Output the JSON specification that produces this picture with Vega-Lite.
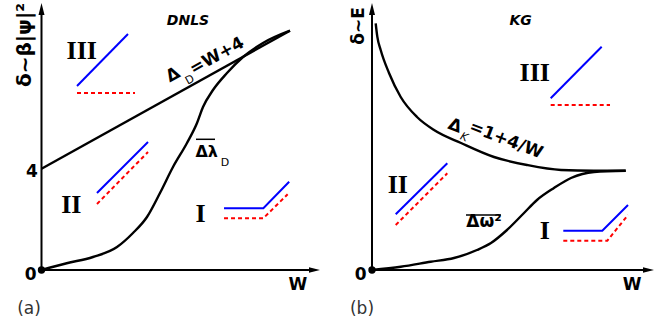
{
  "$schema": "https://vega.github.io/schema/vega-lite/v6.json",
  "padding": 0,
  "spacing": 0,
  "bounds": "flush",
  "background": "white",
  "config": {"view": {"stroke": null}},
  "hconcat": [
    {
      "width": 334,
      "height": 327,
      "encoding": {
        "x": {"field": "x", "type": "quantitative", "scale": {"domain": [-0.9222, 6.5], "nice": false, "zero": false}, "axis": null},
        "y": {"field": "y", "type": "quantitative", "scale": {"domain": [-2.28, 10.8], "nice": false, "zero": false}, "axis": null}
      },
      "layer": [
        {
          "data": {"values": [{"x": 0, "y": 0, "x2": 5.944, "y2": 0}, {"x": 0, "y": 0, "x2": 0, "y2": 10.28}]},
          "mark": {"type": "rule", "color": "black", "strokeWidth": 2},
          "encoding": {"x2": {"field": "x2"}, "y2": {"field": "y2"}}
        },
        {
          "data": {"values": [{"x": 6.067, "y": 0, "dir": "right"}]},
          "mark": {"type": "point", "shape": "M0,-1L0.5,1L-0.5,1Z", "filled": true, "color": "black", "opacity": 1, "size": 121, "angle": 90},
          "encoding": {}
        },
        {
          "data": {"values": [{"x": 0, "y": 10.44, "dir": "up"}]},
          "mark": {"type": "point", "shape": "M0,-1L0.5,1L-0.5,1Z", "filled": true, "color": "black", "opacity": 1, "size": 144},
          "encoding": {}
        },
        {
          "data": {"values": [
            {"curve": "Delta_D", "i": 0, "x": 0, "y": 4.05},
            {"curve": "Delta_D", "i": 1, "x": 5.522, "y": 9.572},
            {"curve": "lambda", "i": 0, "x": 0, "y": 0},
            {"curve": "lambda", "i": 1, "x": 0.56, "y": 0.27},
            {"curve": "lambda", "i": 2, "x": 1.144, "y": 0.52},
            {"curve": "lambda", "i": 3, "x": 1.678, "y": 0.92},
            {"curve": "lambda", "i": 4, "x": 2.033, "y": 1.48},
            {"curve": "lambda", "i": 5, "x": 2.344, "y": 2.12},
            {"curve": "lambda", "i": 6, "x": 2.633, "y": 3.08},
            {"curve": "lambda", "i": 7, "x": 2.922, "y": 4.12},
            {"curve": "lambda", "i": 8, "x": 3.233, "y": 5.08},
            {"curve": "lambda", "i": 9, "x": 3.456, "y": 5.88},
            {"curve": "lambda", "i": 10, "x": 3.589, "y": 6.52},
            {"curve": "lambda", "i": 11, "x": 3.811, "y": 7.2},
            {"curve": "lambda", "i": 12, "x": 4.122, "y": 7.88},
            {"curve": "lambda", "i": 13, "x": 4.478, "y": 8.52},
            {"curve": "lambda", "i": 14, "x": 4.922, "y": 9.08},
            {"curve": "lambda", "i": 15, "x": 5.522, "y": 9.572}
          ]},
          "mark": {"type": "line", "color": "black", "strokeWidth": 2.4, "interpolate": "monotone"},
          "encoding": {"detail": {"field": "curve"}, "order": {"field": "i"}}
        },
        {
          "data": {"values": [{"x": 0, "y": 0}]},
          "mark": {"type": "point", "shape": "circle", "filled": true, "color": "black", "opacity": 1, "size": 55},
          "encoding": {}
        },
        {
          "data": {"values": [
            {"icon": "III", "i": 0, "x": 0.789, "y": 7.36},
            {"icon": "III", "i": 1, "x": 1.922, "y": 9.44},
            {"icon": "II", "i": 0, "x": 1.233, "y": 3.08},
            {"icon": "II", "i": 1, "x": 2.367, "y": 5.12},
            {"icon": "I", "i": 0, "x": 4.056, "y": 2.47},
            {"icon": "I", "i": 1, "x": 4.93, "y": 2.47},
            {"icon": "I", "i": 2, "x": 5.504, "y": 3.53}
          ]},
          "mark": {"type": "line", "color": "#0000ff", "strokeWidth": 2},
          "encoding": {"detail": {"field": "icon"}, "order": {"field": "i"}}
        },
        {
          "data": {"values": [
            {"icon": "III", "i": 0, "x": 0.789, "y": 7.08},
            {"icon": "III", "i": 1, "x": 2.078, "y": 7.08},
            {"icon": "II", "i": 0, "x": 1.233, "y": 2.64},
            {"icon": "II", "i": 1, "x": 2.367, "y": 4.72},
            {"icon": "I", "i": 0, "x": 4.056, "y": 2.07},
            {"icon": "I", "i": 1, "x": 4.93, "y": 2.07},
            {"icon": "I", "i": 2, "x": 5.47, "y": 3.03}
          ]},
          "mark": {"type": "line", "color": "#ff0000", "strokeWidth": 2, "strokeDash": [4, 3]},
          "encoding": {"detail": {"field": "icon"}, "order": {"field": "i"}}
        },
        {
          "data": {"values": [{"x": 3.433, "x2": 3.856, "y": 5.228}]},
          "mark": {"type": "rule", "color": "black", "strokeWidth": 1.5},
          "encoding": {"x2": {"field": "x2"}}
        },
        {
          "data": {"values": [{"x": -0.24, "y": -0.2, "t": "0"}, {"x": -0.211, "y": 3.932, "t": "4"}, {"x": 5.7, "y": -0.6, "t": "W"}]},
          "mark": {"type": "text", "font": "DejaVu Sans", "fontWeight": "bold", "fontSize": 17, "align": "center", "baseline": "middle", "color": "black"},
          "encoding": {"text": {"field": "t"}}
        },
        {
          "data": {"values": [{"x": -0.278, "y": -1.56, "t": "(a)"}]},
          "mark": {"type": "text", "font": "DejaVu Sans", "fontSize": 17, "align": "center", "baseline": "middle", "color": "#333333"},
          "encoding": {"text": {"field": "t"}}
        },
        {
          "data": {"values": [{"x": -0.367, "y": 9.0, "t": "δ~β|ψ|²"}]},
          "mark": {"type": "text", "font": "DejaVu Sans", "fontWeight": "bold", "fontSize": 20, "angle": 270, "align": "center", "baseline": "middle", "color": "black"},
          "encoding": {"text": {"field": "t"}}
        },
        {
          "data": {"values": [{"x": 3.256, "y": 9.972, "t": "DNLS"}]},
          "mark": {"type": "text", "font": "DejaVu Sans", "fontWeight": "bold", "fontStyle": "italic", "fontSize": 14, "align": "center", "baseline": "middle", "color": "black"},
          "encoding": {"text": {"field": "t"}}
        },
        {
          "data": {"values": [{"x": 2.922, "y": 7.8, "t": "Δ"}, {"x": 3.9, "y": 8.56, "t": "=W+4"}]},
          "mark": {"type": "text", "font": "DejaVu Sans", "fontWeight": "bold", "fontSize": 17, "angle": 331, "align": "center", "baseline": "middle", "color": "black"},
          "encoding": {"text": {"field": "t"}}
        },
        {
          "data": {"values": [{"x": 3.3, "y": 7.6, "t": "D"}]},
          "mark": {"type": "text", "font": "DejaVu Sans", "fontSize": 11, "angle": 331, "align": "center", "baseline": "middle", "color": "black"},
          "encoding": {"text": {"field": "t"}}
        },
        {
          "data": {"values": [{"x": 3.671, "y": 4.732, "t": "Δλ"}]},
          "mark": {"type": "text", "font": "DejaVu Sans", "fontWeight": "bold", "fontSize": 16, "align": "center", "baseline": "middle", "color": "black"},
          "encoding": {"text": {"field": "t"}}
        },
        {
          "data": {"values": [{"x": 4.078, "y": 4.28, "t": "D"}]},
          "mark": {"type": "text", "font": "DejaVu Sans", "fontSize": 11, "align": "center", "baseline": "middle", "color": "black"},
          "encoding": {"text": {"field": "t"}}
        },
        {
          "data": {"values": [{"x": 0.893, "y": 8.77, "t": "III"}, {"x": 0.662, "y": 2.6, "t": "II"}, {"x": 3.537, "y": 2.24, "t": "I"}]},
          "mark": {"type": "text", "font": "Liberation Serif", "fontWeight": "bold", "fontSize": 26, "align": "center", "baseline": "middle", "color": "black"},
          "encoding": {"text": {"field": "t"}}
        }
      ]
    },
    {
      "width": 334,
      "height": 327,
      "encoding": {
        "x": {"field": "x", "type": "quantitative", "scale": {"domain": [-0.8444, 6.5778], "nice": false, "zero": false}, "axis": null},
        "y": {"field": "y", "type": "quantitative", "scale": {"domain": [-2.28, 10.8], "nice": false, "zero": false}, "axis": null}
      },
      "layer": [
        {
          "data": {"values": [{"x": 0, "y": 0, "x2": 6.022, "y2": 0}, {"x": 0, "y": 0, "x2": 0, "y2": 10.28}]},
          "mark": {"type": "rule", "color": "black", "strokeWidth": 2},
          "encoding": {"x2": {"field": "x2"}, "y2": {"field": "y2"}}
        },
        {
          "data": {"values": [{"x": 6.144, "y": 0, "dir": "right"}]},
          "mark": {"type": "point", "shape": "M0,-1L0.5,1L-0.5,1Z", "filled": true, "color": "black", "opacity": 1, "size": 121, "angle": 90},
          "encoding": {}
        },
        {
          "data": {"values": [{"x": 0, "y": 10.44, "dir": "up"}]},
          "mark": {"type": "point", "shape": "M0,-1L0.5,1L-0.5,1Z", "filled": true, "color": "black", "opacity": 1, "size": 144},
          "encoding": {}
        },
        {
          "data": {"values": [
            {"curve": "Delta_K", "i": 0, "x": 0.082, "y": 9.868},
            {"curve": "Delta_K", "i": 1, "x": 0.118, "y": 9.332},
            {"curve": "Delta_K", "i": 2, "x": 0.193, "y": 8.8},
            {"curve": "Delta_K", "i": 3, "x": 0.378, "y": 7.88},
            {"curve": "Delta_K", "i": 4, "x": 0.638, "y": 6.92},
            {"curve": "Delta_K", "i": 5, "x": 1.0, "y": 6.12},
            {"curve": "Delta_K", "i": 6, "x": 1.378, "y": 5.6},
            {"curve": "Delta_K", "i": 7, "x": 1.978, "y": 5.08},
            {"curve": "Delta_K", "i": 8, "x": 2.711, "y": 4.52},
            {"curve": "Delta_K", "i": 9, "x": 3.444, "y": 4.2},
            {"curve": "Delta_K", "i": 10, "x": 4.2, "y": 4.0},
            {"curve": "Delta_K", "i": 11, "x": 4.933, "y": 3.97},
            {"curve": "Delta_K", "i": 12, "x": 5.638, "y": 3.97},
            {"curve": "omega", "i": 0, "x": 0, "y": 0},
            {"curve": "omega", "i": 1, "x": 0.638, "y": 0.13},
            {"curve": "omega", "i": 2, "x": 1.304, "y": 0.33},
            {"curve": "omega", "i": 3, "x": 1.822, "y": 0.48},
            {"curve": "omega", "i": 4, "x": 2.333, "y": 0.8},
            {"curve": "omega", "i": 5, "x": 2.644, "y": 1.08},
            {"curve": "omega", "i": 6, "x": 3.0, "y": 1.6},
            {"curve": "omega", "i": 7, "x": 3.378, "y": 2.28},
            {"curve": "omega", "i": 8, "x": 3.667, "y": 2.8},
            {"curve": "omega", "i": 9, "x": 4.044, "y": 3.28},
            {"curve": "omega", "i": 10, "x": 4.422, "y": 3.68},
            {"curve": "omega", "i": 11, "x": 4.933, "y": 3.92},
            {"curve": "omega", "i": 12, "x": 5.638, "y": 3.97}
          ]},
          "mark": {"type": "line", "color": "black", "strokeWidth": 2.4, "interpolate": "monotone"},
          "encoding": {"detail": {"field": "curve"}, "order": {"field": "i"}}
        },
        {
          "data": {"values": [{"x": 0, "y": 0}]},
          "mark": {"type": "point", "shape": "circle", "filled": true, "color": "black", "opacity": 1, "size": 55},
          "encoding": {}
        },
        {
          "data": {"values": [
            {"icon": "III", "i": 0, "x": 3.971, "y": 6.868},
            {"icon": "III", "i": 1, "x": 5.104, "y": 8.932},
            {"icon": "II", "i": 0, "x": 0.527, "y": 2.228},
            {"icon": "II", "i": 1, "x": 1.673, "y": 4.268},
            {"icon": "I", "i": 0, "x": 4.251, "y": 1.572},
            {"icon": "I", "i": 1, "x": 5.118, "y": 1.572},
            {"icon": "I", "i": 2, "x": 5.689, "y": 2.6}
          ]},
          "mark": {"type": "line", "color": "#0000ff", "strokeWidth": 2},
          "encoding": {"detail": {"field": "icon"}, "order": {"field": "i"}}
        },
        {
          "data": {"values": [
            {"icon": "III", "i": 0, "x": 3.971, "y": 6.6},
            {"icon": "III", "i": 1, "x": 5.289, "y": 6.6},
            {"icon": "II", "i": 0, "x": 0.527, "y": 1.8},
            {"icon": "II", "i": 1, "x": 1.673, "y": 3.868},
            {"icon": "I", "i": 0, "x": 4.251, "y": 1.172},
            {"icon": "I", "i": 1, "x": 5.229, "y": 1.172},
            {"icon": "I", "i": 2, "x": 5.689, "y": 2.2}
          ]},
          "mark": {"type": "line", "color": "#ff0000", "strokeWidth": 2, "strokeDash": [4, 3]},
          "encoding": {"detail": {"field": "icon"}, "order": {"field": "i"}}
        },
        {
          "data": {"values": [{"x": 2.089, "x2": 2.867, "y": 2.2}]},
          "mark": {"type": "rule", "color": "black", "strokeWidth": 1.5},
          "encoding": {"x2": {"field": "x2"}}
        },
        {
          "data": {"values": [{"x": -0.251, "y": -0.2, "t": "0"}, {"x": 5.778, "y": -0.6, "t": "W"}]},
          "mark": {"type": "text", "font": "DejaVu Sans", "fontWeight": "bold", "fontSize": 17, "align": "center", "baseline": "middle", "color": "black"},
          "encoding": {"text": {"field": "t"}}
        },
        {
          "data": {"values": [{"x": -0.222, "y": -1.56, "t": "(b)"}]},
          "mark": {"type": "text", "font": "DejaVu Sans", "fontSize": 17, "align": "center", "baseline": "middle", "color": "#333333"},
          "encoding": {"text": {"field": "t"}}
        },
        {
          "data": {"values": [{"x": -0.289, "y": 9.76, "t": "δ~E"}]},
          "mark": {"type": "text", "font": "DejaVu Sans", "fontWeight": "bold", "fontSize": 17, "angle": 270, "align": "center", "baseline": "middle", "color": "black"},
          "encoding": {"text": {"field": "t"}}
        },
        {
          "data": {"values": [{"x": 3.304, "y": 9.972, "t": "KG"}]},
          "mark": {"type": "text", "font": "DejaVu Sans", "fontWeight": "bold", "fontStyle": "italic", "fontSize": 14, "align": "center", "baseline": "middle", "color": "black"},
          "encoding": {"text": {"field": "t"}}
        },
        {
          "data": {"values": [{"x": 1.844, "y": 5.76, "t": "Δ"}, {"x": 2.978, "y": 5.2, "t": "=1+4/W"}]},
          "mark": {"type": "text", "font": "DejaVu Sans", "fontWeight": "bold", "fontSize": 17, "angle": 21, "align": "center", "baseline": "middle", "color": "black"},
          "encoding": {"text": {"field": "t"}}
        },
        {
          "data": {"values": [{"x": 2.044, "y": 5.3, "t": "K"}]},
          "mark": {"type": "text", "font": "DejaVu Sans", "fontStyle": "italic", "fontSize": 11, "angle": 21, "align": "center", "baseline": "middle", "color": "black"},
          "encoding": {"text": {"field": "t"}}
        },
        {
          "data": {"values": [{"x": 2.489, "y": 1.92, "t": "Δω²"}]},
          "mark": {"type": "text", "font": "DejaVu Sans", "fontWeight": "bold", "fontSize": 17, "align": "center", "baseline": "middle", "color": "black"},
          "encoding": {"text": {"field": "t"}}
        },
        {
          "data": {"values": [{"x": 3.616, "y": 7.868, "t": "III"}, {"x": 0.574, "y": 3.4, "t": "II"}, {"x": 3.838, "y": 1.572, "t": "I"}]},
          "mark": {"type": "text", "font": "Liberation Serif", "fontWeight": "bold", "fontSize": 26, "align": "center", "baseline": "middle", "color": "black"},
          "encoding": {"text": {"field": "t"}}
        }
      ]
    }
  ]
}
